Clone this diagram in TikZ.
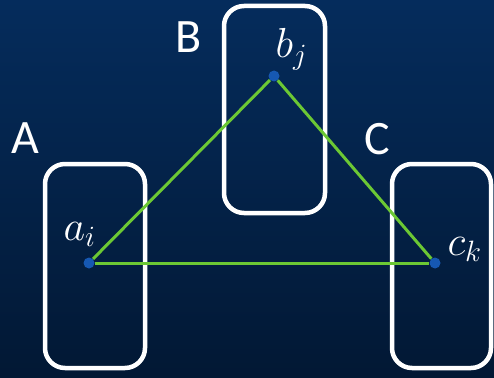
\RequirePackage{fix-cm}
\documentclass[tikz,border=0pt]{standalone}
\usepackage{fontspec}
\setsansfont{Carlito}
\usetikzlibrary{positioning}

\definecolor{bgtop}{RGB}{5,44,92}
\definecolor{bgbot}{RGB}{2,24,52}
\definecolor{linkgreen}{RGB}{108,200,52}
\definecolor{dotblue}{RGB}{22,88,178}

\begin{document}
\begin{tikzpicture}[
    x=1pt, y=-1pt,
    set/.style={draw=white, line width=4.5pt, rounded corners=20pt,
                minimum width=100pt, minimum height=204pt, inner sep=0pt},
    elem/.style={circle, fill=dotblue, minimum size=11pt, inner sep=0pt},
    link/.style={linkgreen, line width=3pt},
    setname/.style={text=white, anchor=base, font=\sffamily\fontsize{48}{58}\selectfont},
    elemname/.style={text=white, anchor=base west, font=\fontsize{42}{50}\selectfont},
  ]

  % ============================== Background ==============================
  \shade[top color=bgtop, bottom color=bgbot] (0,0) rectangle (494,377);
  \useasboundingbox (0,0) rectangle (494,377);

  % ============================== Sets ====================================
  \node[set] (setA) at (95,266) {};
  \node[set, minimum width=101pt, minimum height=207pt] (setB) at (274.5,109.5) {};
  \node[set, minimum width=99pt] (setC) at (441.5,266) {};

  \node[setname] (nameA) at (25,153) {A};
  \node[setname] (nameB) at (189,53)  {B};
  \node[setname] (nameC) at (377,154) {C};

  % ============================== Elements ================================
  \node[elem] (ai) at (89,263) {};
  \node[elem] (bj) at (274,76) {};
  \node[elem] (ck) at (435,263) {};

  \node[elemname] (lai) at (60,240) {$a_i$};
  \node[elemname] (lbj) at (272,58) {$b_j$};
  \node[elemname] (lck) at (444,255) {$c_k$};

  % ============================== Triangle ================================
  \draw[link] (ai) -- (bj);
  \draw[link] (bj) -- (ck);
  \draw[link] (ck) -- (ai);
\end{tikzpicture}
\end{document}
